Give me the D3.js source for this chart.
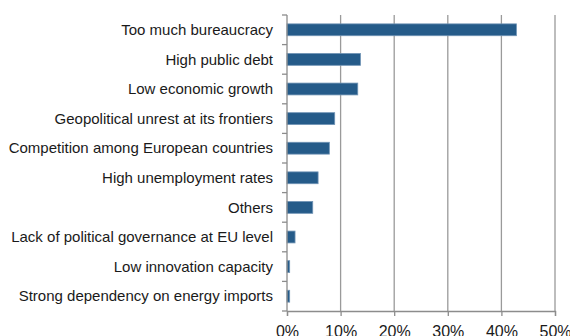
<!DOCTYPE html>
<html>
<head>
<meta charset="utf-8">
<script src="https://cdn.jsdelivr.net/npm/d3@7"></script>
<style>
  html, body { margin: 0; padding: 0; background: #fff; }
  svg { display: block; }
  text { font-family: "Liberation Sans", Arial, sans-serif; fill: #1a1a1a; }
</style>
</head>
<body>
<svg id="chart" width="570" height="336"></svg>
<script>
// Main obstacles, share of respondents (%)
const categories = [
  "Too much bureaucracy",
  "High public debt",
  "Low economic growth",
  "Geopolitical unrest at its frontiers",
  "Competition among European countries",
  "High unemployment rates",
  "Others",
  "Lack of political governance at EU level",
  "Low innovation capacity",
  "Strong dependency on energy imports"
];
const values = [42.8, 13.7, 13.2, 8.9, 7.9, 5.8, 4.8, 1.5, 0.5, 0.5];
const xTicks = [0, 10, 20, 30, 40, 50];

const svg = d3.select("#chart");
const margin = { top: 15, right: 15, bottom: 25, left: 287 };
const width = 570 - margin.left - margin.right;
const height = 336 - margin.top - margin.bottom;

const g = svg.append("g").attr("transform", `translate(${margin.left},${margin.top})`);

const x = d3.scaleLinear().domain([0, 50]).range([0, 268]);
const y = d3.scaleBand().domain(categories).range([0, height]).paddingInner(0.6).paddingOuter(0.3);

// Vertical gridlines
g.selectAll("line.grid")
  .data(xTicks.slice(1))
  .join("line")
  .attr("class", "grid")
  .attr("x1", d => x(d)).attr("x2", d => x(d))
  .attr("y1", 0).attr("y2", height)
  .attr("stroke", "#9a9a9a").attr("stroke-width", 1.3);

// Bars
g.selectAll("rect.bar")
  .data(values)
  .join("rect")
  .attr("class", "bar")
  .attr("x", x(0))
  .attr("y", (d, i) => y(categories[i]))
  .attr("width", d => x(d) - x(0))
  .attr("height", y.bandwidth())
  .attr("fill", "#255b89")
  .attr("stroke", "#6f93b5")
  .attr("stroke-width", 0.8);

// Left axis with ticks at category boundaries
const yAxisG = g.append("g");
yAxisG.append("line")
  .attr("x1", 0).attr("x2", 0).attr("y1", 0).attr("y2", height)
  .attr("stroke", "#8c8c8c").attr("stroke-width", 1.3);
const bounds = d3.range(categories.length + 1).map(i => i * height / categories.length);
yAxisG.selectAll("line.tk")
  .data(bounds)
  .join("line")
  .attr("class", "tk")
  .attr("x1", -5).attr("x2", 0)
  .attr("y1", d => d).attr("y2", d => d)
  .attr("stroke", "#8c8c8c").attr("stroke-width", 1.3);
yAxisG.selectAll("text")
  .data(categories)
  .join("text")
  .attr("x", -14)
  .attr("y", d => y(d) + y.bandwidth() / 2)
  .attr("dy", "0.35em")
  .attr("text-anchor", "end")
  .attr("font-size", 15)
  .text(d => d);

// Bottom axis
const xAxis = d3.axisBottom(x).tickValues(xTicks).tickFormat(d => d + "%").tickSize(5).tickPadding(9.5);
const xAxisG = g.append("g").attr("transform", `translate(0,${height})`).call(xAxis);
xAxisG.select(".domain").attr("stroke", "#8c8c8c").attr("stroke-width", 1.3);
xAxisG.selectAll(".tick line").attr("stroke", "#8c8c8c").attr("stroke-width", 1.3);
xAxisG.selectAll(".tick text")
  .attr("font-size", 16)
  .attr("font-family", "Liberation Sans, Arial, sans-serif")
  .attr("fill", "#1a1a1a");
</script>
</body>
</html>
